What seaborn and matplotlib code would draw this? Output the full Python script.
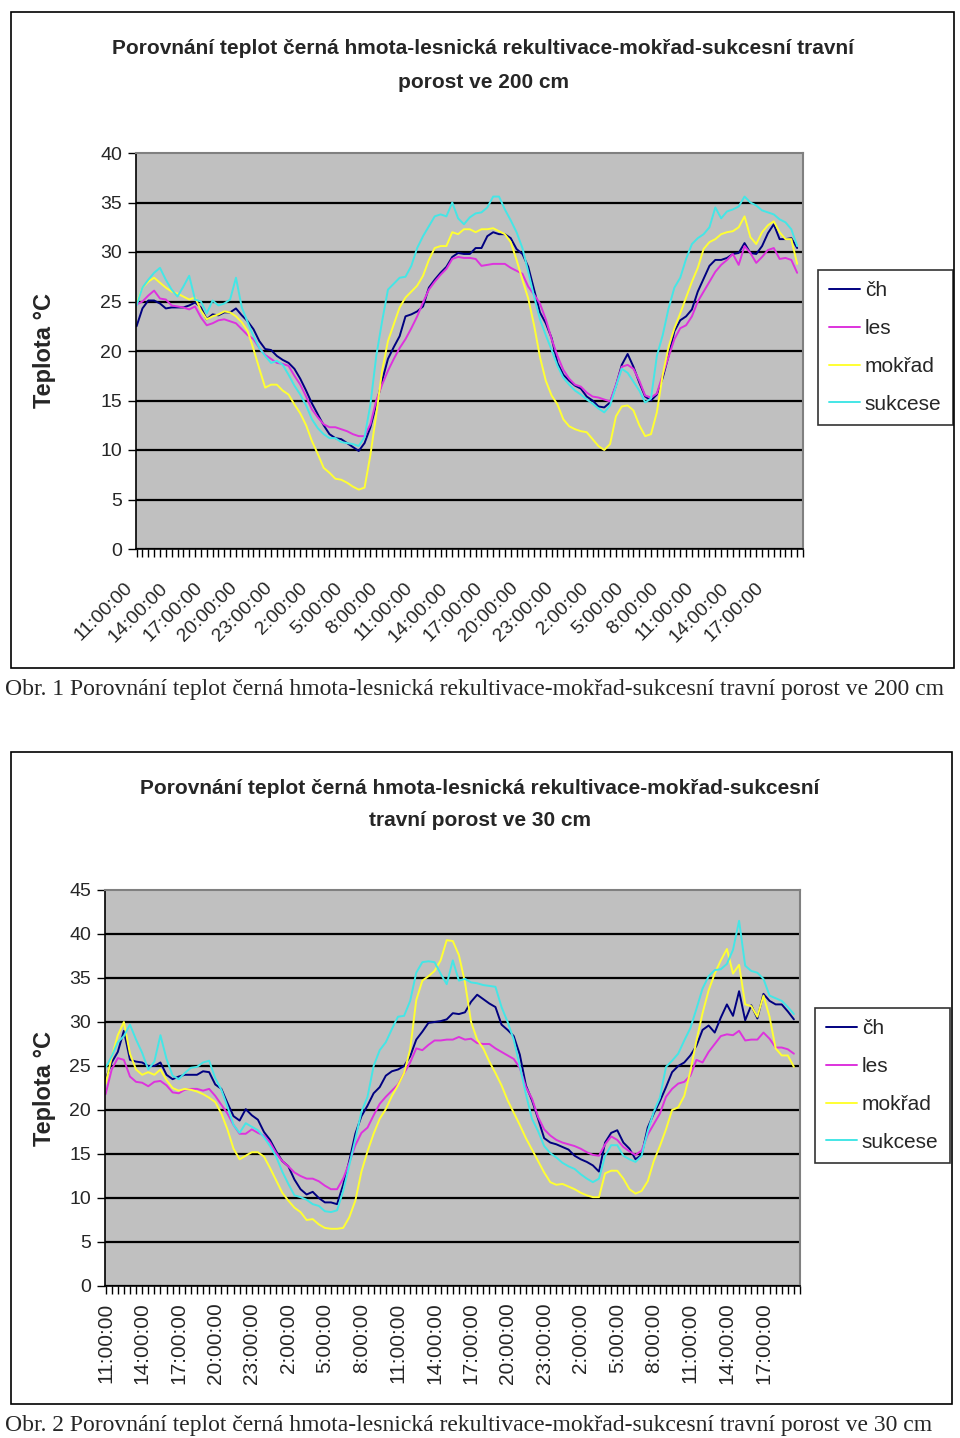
import numpy as np
import pandas as pd
import matplotlib
matplotlib.use("Agg")
import matplotlib.pyplot as plt
import matplotlib.transforms as mtransforms
from matplotlib.patches import Rectangle
from matplotlib.lines import Line2D
import seaborn as sns

# ---------------- data ----------------
series_names = ["čh", "les", "mokřad", "sukcese"]
series_colors = ["#000080", "#dd33dd", "#ffff33", "#44e6e6"]

tick_labels = ["11:00:00", "14:00:00", "17:00:00", "20:00:00", "23:00:00", "2:00:00",
               "5:00:00", "8:00:00", "11:00:00", "14:00:00", "17:00:00", "20:00:00",
               "23:00:00", "2:00:00", "5:00:00", "8:00:00", "11:00:00", "14:00:00",
               "17:00:00"]

# 200 cm
ch_200 = [22.5, 24.3, 25.1, 25.1, 24.8, 24.3, 24.4, 24.4, 24.4, 24.6,
          24.9, 24.4, 23.2, 23.7, 23.6, 23.9, 23.9, 24.3, 23.6, 23.0,
          22.2, 21.0, 20.2, 20.1, 19.5, 19.1, 18.8, 18.2, 17.2, 16.0,
          14.7, 13.6, 12.5, 11.6, 11.2, 11.1, 10.7, 10.3, 9.9, 10.7,
          12.3, 14.6, 17.0, 19.2, 20.4, 21.5, 23.5, 23.7, 24.0, 24.5,
          26.4, 27.2, 27.9, 28.5, 29.5, 29.9, 29.8, 29.8, 30.4, 30.4,
          31.6, 32.0, 31.8, 31.8, 31.4, 30.3, 29.8, 28.5, 26.2, 23.9,
          22.8, 21.3, 18.8, 17.6, 17.0, 16.5, 16.2, 15.4, 15.0, 14.4,
          14.3, 14.8, 16.5, 18.6, 19.7, 18.4, 16.8, 15.4, 15.0, 15.6,
          17.3, 19.5, 22.0, 23.1, 23.5, 24.2, 26.0, 27.3, 28.6, 29.2,
          29.2, 29.4, 29.8, 29.9, 30.9, 29.9, 29.8, 30.6, 31.9, 32.8,
          31.3, 31.3, 31.4, 30.4]
les_200 = [24.7, 25.0, 25.6, 26.1, 25.3, 25.2, 24.6, 24.5, 24.4, 24.2,
           24.5, 23.4, 22.6, 22.8, 23.1, 23.2, 23.0, 22.8, 22.2, 21.6,
           21.2, 20.3, 19.6, 19.2, 18.8, 18.7, 18.5, 17.5, 16.6, 15.4,
           14.1, 13.3, 12.6, 12.3, 12.3, 12.1, 11.9, 11.6, 11.4, 11.4,
           12.6, 15.0, 16.6, 18.0, 19.2, 20.3, 21.2, 22.3, 23.5, 24.9,
           26.2, 27.0, 27.7, 28.3, 29.3, 29.5, 29.4, 29.4, 29.3, 28.6,
           28.7, 28.8, 28.8, 28.8, 28.4, 28.1, 27.8, 26.5, 25.7, 24.8,
           23.2, 21.2, 19.5, 18.1, 17.2, 16.6, 16.4, 15.8, 15.4, 15.3,
           15.1, 14.9, 16.6, 18.4, 18.6, 18.2, 17.0, 15.5, 15.3, 15.7,
           17.6, 19.4, 21.2, 22.3, 22.6, 23.5, 25.0, 26.0, 27.0, 28.0,
           28.7, 29.2, 29.8, 28.7, 30.6, 29.9, 28.9, 29.5, 30.2, 30.4,
           29.3, 29.4, 29.2, 27.9]
mokrad_200 = [24.8, 26.4, 27.0, 27.4, 26.9, 26.4, 26.0, 25.8, 25.5, 25.2,
              25.4, 24.1, 23.2, 23.5, 23.7, 24.0, 23.9, 23.5, 22.9, 22.0,
              20.2, 18.2, 16.3, 16.6, 16.6, 16.0, 15.6, 14.6, 13.7, 12.5,
              10.9, 9.6, 8.2, 7.7, 7.1, 7.0, 6.7, 6.3, 6.0, 6.2,
              9.5, 13.6, 18.0, 21.0, 22.7, 24.4, 25.4, 26.0, 26.6, 27.6,
              29.2, 30.4, 30.6, 30.6, 32.0, 31.8, 32.3, 32.3, 32.0, 32.3,
              32.3, 32.4, 32.1, 31.8, 31.0, 29.2, 27.2, 25.3, 22.6, 19.4,
              17.0, 15.5, 14.6, 13.1, 12.4, 12.1, 11.9, 11.8, 11.1, 10.4,
              10.0, 10.6, 13.4, 14.4, 14.5, 14.0, 12.5, 11.4, 11.6, 13.8,
              17.6, 20.4, 22.3, 23.8, 25.4, 27.0, 28.4, 30.3, 31.0, 31.3,
              31.8, 32.0, 32.1, 32.5, 33.6, 31.5, 30.8, 32.0, 32.7, 33.1,
              32.0, 31.3, 31.3, 28.8]
sukcese_200 = [24.6, 26.4, 27.2, 27.9, 28.4, 27.2, 26.2, 25.5, 26.5, 27.6,
               25.2, 25.0, 23.8, 25.1, 24.6, 24.8, 25.2, 27.4, 24.4, 22.9,
               21.5, 20.3, 19.5, 18.8, 19.0, 18.6, 17.6, 16.5, 15.6, 14.5,
               13.1, 12.2, 11.6, 11.2, 11.2, 10.8, 10.7, 10.6, 10.4, 11.3,
               14.6, 19.5, 23.0, 26.2, 26.8, 27.4, 27.5, 28.6, 30.4, 31.6,
               32.6, 33.6, 33.8, 33.6, 35.0, 33.4, 32.8, 33.5, 33.9, 34.0,
               34.5, 35.6, 35.6, 34.3, 33.2, 32.0, 30.4, 28.0, 25.5, 23.2,
               21.6, 20.1, 18.5, 17.3, 16.6, 16.0, 15.6, 15.1, 14.7, 14.2,
               13.8, 14.5, 16.4, 18.2, 17.8, 16.9, 16.0, 14.8, 15.2, 19.5,
               21.6, 24.3, 26.4, 27.4, 29.3, 30.8, 31.4, 31.8, 32.5, 34.5,
               33.4, 34.1, 34.3, 34.6, 35.6, 35.0, 34.7, 34.2, 34.0, 33.8,
               33.3, 33.0, 32.3, 30.6]

# 30 cm
ch_30 = [23.5, 25.4, 26.6, 29.0, 25.7, 25.5, 25.4, 25.0, 25.0, 25.4,
         24.0, 23.5, 23.8, 24.0, 24.0, 24.0, 24.4, 24.3, 22.9, 22.4,
         20.8, 19.3, 18.8, 20.1, 19.4, 18.9, 17.5, 16.6, 15.3, 14.2,
         13.6, 12.1, 11.0, 10.4, 10.7, 10.0, 9.5, 9.5, 9.3, 11.5,
         14.2, 17.3, 19.3, 20.5, 21.9, 22.6, 23.9, 24.4, 24.6, 25.0,
         26.1, 28.0, 28.9, 29.9, 30.0, 30.1, 30.3, 31.0, 30.9, 31.1,
         32.3, 33.1, 32.6, 32.1, 31.7, 29.7, 29.1, 28.4, 26.3, 22.8,
         21.1, 19.0, 16.8, 16.3, 16.1, 15.8, 15.5, 14.8, 14.4, 14.1,
         13.7, 13.0, 16.3, 17.4, 17.7, 16.3, 15.6, 14.4, 14.9, 18.0,
         19.6, 21.0, 22.6, 24.3, 25.0, 25.4, 26.2, 27.3, 29.1, 29.6,
         28.8, 30.5, 32.0, 30.7, 33.5, 30.2, 31.9, 30.4, 33.2, 32.4,
         32.0, 32.0, 31.2, 30.3]
les_30 = [21.8, 24.6, 25.9, 25.7, 23.8, 23.2, 23.1, 22.7, 23.2, 23.3,
          22.8, 22.0, 21.9, 22.3, 22.4, 22.4, 22.2, 22.4, 21.6, 20.6,
          19.6, 18.3, 17.3, 17.3, 17.8, 17.4, 17.1, 16.3, 15.1, 14.2,
          13.6, 12.9, 12.5, 12.2, 12.2, 11.9, 11.4, 11.0, 11.0, 12.2,
          14.0, 16.0, 17.4, 18.0, 19.4, 20.7, 21.5, 22.2, 22.9, 24.2,
          25.4, 27.0, 26.8, 27.4, 27.9, 27.9, 28.0, 28.0, 28.3, 28.0,
          28.1, 27.6, 27.5, 27.5, 27.0, 26.6, 26.2, 25.8, 24.8, 22.6,
          21.3, 19.2, 17.8, 17.1, 16.6, 16.3, 16.1, 15.9, 15.6, 15.2,
          14.9, 14.8, 16.1, 17.0, 16.6, 15.8, 15.3, 14.9, 15.4, 17.2,
          18.4, 19.6, 21.5, 22.4, 23.0, 23.2, 23.9, 25.7, 25.4, 26.6,
          27.5, 28.4, 28.6, 28.5, 29.0, 27.9, 28.0, 28.0, 28.8, 28.1,
          27.1, 27.1, 26.9, 26.4]
mokrad_30 = [23.0, 26.0, 28.5, 30.0, 26.4, 24.6, 24.0, 24.3, 24.0, 24.6,
             23.4, 22.5, 22.2, 22.4, 22.3, 22.1, 21.8, 21.4, 20.9, 19.6,
             17.8, 15.6, 14.4, 14.8, 15.2, 15.2, 14.7, 13.4, 12.0, 10.6,
             9.7, 8.9, 8.4, 7.5, 7.6, 7.0, 6.6, 6.5, 6.5, 6.6,
             7.8, 9.7, 13.0, 15.3, 17.3, 19.0, 20.1, 21.6, 22.8, 24.2,
             26.9, 32.5, 34.7, 35.2, 35.8, 37.0, 39.3, 39.2, 37.6, 34.5,
             30.0, 28.0, 27.0, 25.5, 24.2, 22.8, 21.1, 19.7, 18.3, 16.8,
             15.5, 14.2, 12.9, 11.8, 11.5, 11.6, 11.3, 11.0, 10.6, 10.3,
             10.1, 10.1, 12.8, 13.1, 13.1, 12.2, 11.0, 10.5, 10.8, 11.9,
             14.2, 15.9, 17.8, 20.0, 20.3, 21.6, 24.4, 27.9, 31.0, 33.6,
             35.5, 37.0, 38.3, 35.5, 36.5, 32.0, 31.8, 30.6, 33.0, 30.6,
             27.0, 26.2, 26.2, 24.9]
sukcese_30 = [24.8, 26.1, 27.7, 28.4, 29.7, 28.0, 26.5, 24.6, 25.5, 28.5,
              25.8, 23.9, 23.5, 24.2, 24.8, 24.9, 25.4, 25.6, 23.6, 22.3,
              20.4, 18.3, 17.4, 18.5, 18.1, 17.7, 16.9, 15.9, 14.7, 13.0,
              11.6, 10.3, 10.1, 9.8, 9.3, 9.1, 8.5, 8.4, 8.6, 10.8,
              13.7, 16.7, 19.8, 21.5, 25.0, 26.8, 27.7, 29.2, 30.6, 30.7,
              32.4, 35.6, 36.8, 36.9, 36.8, 35.5, 34.3, 37.0, 34.7, 34.9,
              34.5, 34.4, 34.2, 34.1, 34.0, 31.7, 30.0, 28.0, 25.0, 21.8,
              19.0, 17.6, 15.9, 15.1, 14.6, 14.0, 13.6, 13.3, 12.7, 12.2,
              11.8, 12.2, 14.8, 16.0, 16.0, 14.8, 14.4, 14.1, 14.8, 17.6,
              19.8, 21.4, 24.9, 25.6, 26.4, 27.9, 29.3, 31.5, 33.8, 35.2,
              35.9, 36.0, 36.6, 38.2, 41.5, 36.4, 35.8, 35.6, 34.9, 33.0,
              32.7, 32.4, 31.7, 30.9]

title_200 = ["Porovnání teplot černá hmota-lesnická rekultivace-mokřad-sukcesní travní",
             "porost ve 200 cm"]
title_30 = ["Porovnání teplot černá hmota-lesnická rekultivace-mokřad-sukcesní",
            "travní porost ve 30 cm"]
caption_200 = "Obr. 1 Porovnání teplot černá hmota-lesnická rekultivace-mokřad-sukcesní travní porost ve 200 cm"
caption_30 = "Obr. 2 Porovnání teplot černá hmota-lesnická rekultivace-mokřad-sukcesní travní porost ve 30 cm"
y_label = "Teplota °C"

# ---------------- style ----------------
sns.set_theme(style="ticks")
SANS = ["Liberation Sans", "DejaVu Sans"]
SERIF = ["Liberation Serif", "DejaVu Serif"]
plt.rcParams["font.family"] = SANS

W, H = 960, 1438
fig = plt.figure(figsize=(W / 100, H / 100), dpi=100)
fig.patch.set_facecolor("white")


def fx(x):
    return x / W


def fy(y):
    return 1 - y / H


def make_df(arrs):
    frames = []
    for name, vals in zip(series_names, arrs):
        frames.append(pd.DataFrame({"idx": np.arange(len(vals)), "temp": vals, "series": name}))
    return pd.concat(frames, ignore_index=True)


def draw_chart(box, axbox, title_lines, title_y, title_x, arrs, ymax, rot, legbox, ylab_y, caption, cap_y, xmax):
    x0, y0, x1, y1 = box
    fig.add_artist(Rectangle((fx(x0), fy(y1)), fx(x1) - fx(x0), fy(y0) - fy(y1),
                             transform=fig.transFigure, fill=False, ec="black", lw=1.2))
    ax_l, ax_t, ax_r, ax_b = axbox
    ax = fig.add_axes([fx(ax_l), fy(ax_b), fx(ax_r) - fx(ax_l), fy(ax_t) - fy(ax_b)])
    ax.set_facecolor("#c0c0c0")
    df = make_df(arrs)
    sns.lineplot(data=df, x="idx", y="temp", hue="series", palette=series_colors,
                 hue_order=series_names, linewidth=1.4, ax=ax, legend=False)
    ax.set_xlim(-0.1, xmax)
    ax.set_ylim(0, ymax)
    ax.set_yticks(np.arange(0, ymax + 1, 5))
    ax.set_yticklabels([str(v) for v in range(0, ymax + 1, 5)], fontsize=14)
    ax.set_xticks(np.arange(0, len(tick_labels) * 6, 6))
    ax.set_xticks(np.arange(0, len(arrs[0]) + 1, 1), minor=True)
    if rot == 45:
        ax.set_xticklabels(tick_labels, rotation=45, ha="right", rotation_mode="anchor", fontsize=14)
        xpad = 16
    else:
        ax.set_xticklabels(tick_labels, rotation=90, ha="center", va="top", fontsize=15)
        xpad = 6
    ax.tick_params(axis="x", which="both", length=6, width=1, color="black", direction="out", pad=xpad)
    ax.tick_params(axis="y", which="major", length=6, width=1, color="black", direction="out", pad=4)
    if rot == 45:
        offset = mtransforms.ScaledTranslation(-0.13, 0, fig.dpi_scale_trans)
        for lbl in ax.get_xticklabels():
            lbl.set_transform(lbl.get_transform() + offset)
    ax.set_xlabel("")
    ax.set_ylabel("")
    ax.set_axisbelow(True)
    ax.yaxis.grid(True, color="black", lw=1.6)
    ax.xaxis.grid(False)
    gl = ax.get_ygridlines()
    gl[-1].set_visible(False)
    for side in ["left", "bottom"]:
        ax.spines[side].set_color("black")
        ax.spines[side].set_linewidth(1.2)
    for side in ["top", "right"]:
        ax.spines[side].set_visible(True)
        ax.spines[side].set_color("#808080")
        ax.spines[side].set_linewidth(1.5)
    for line, ty in zip(title_lines, title_y):
        fig.text(fx(title_x), fy(ty), line, ha="center", va="center", fontsize=15,
                 fontweight="bold", family=SANS)
    fig.text(fx(44), fy(ylab_y), y_label, rotation=90, ha="center", va="center",
             fontsize=17, fontweight="bold", family=SANS)
    handles = [Line2D([0], [0], color=c, lw=1.4) for c in series_colors]
    lx0, ly0, lx1, ly1 = legbox
    leg = ax.legend(handles, series_names, loc="upper left",
                    bbox_to_anchor=(fx(lx0), fy(ly0)), bbox_transform=fig.transFigure,
                    frameon=True, fancybox=False, edgecolor="black", facecolor="white",
                    fontsize=15, handlelength=1.45, handletextpad=0.25, labelspacing=0.9,
                    borderpad=0.55, borderaxespad=0)
    leg.get_frame().set_linewidth(1.2)
    fig.text(fx(5), fy(cap_y), caption, ha="left", va="center", fontsize=17, family=SERIF)
    return ax


draw_chart((11, 12, 954, 668), (136, 153, 803, 549), title_200, (48, 82), 483,
           [ch_200, les_200, mokrad_200, sukcese_200], 40, 45, (818, 270, 946, 422), 350,
           caption_200, 690, 113.7)
draw_chart((11, 752, 952, 1404), (105, 890, 800, 1286), title_30, (788, 821), 480,
           [ch_30, les_30, mokrad_30, sukcese_30], 45, 90, (815, 1008, 944, 1160), 1088,
           caption_30, 1425, 113.6)

fig.savefig("out.png", dpi=100, facecolor="white")
